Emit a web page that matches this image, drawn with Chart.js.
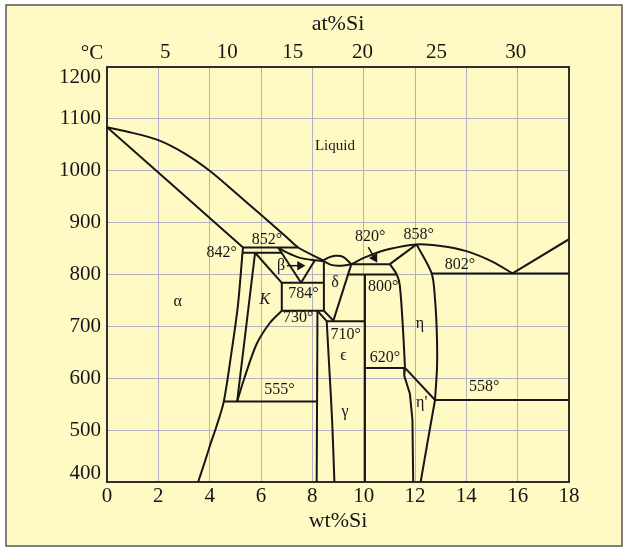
<!DOCTYPE html>
<html>
<head>
<meta charset="utf-8">
<script src="https://cdn.jsdelivr.net/npm/chart.js@4.4.1/dist/chart.umd.min.js"></script>
<style>
  html, body { margin: 0; padding: 0; background: #ffffff; }
  canvas { display: block; }
</style>
</head>
<body>
<canvas id="c" width="629" height="551"></canvas>
<script>
// Axis ticks
const wtTicks = [0, 2, 4, 6, 8, 10, 12, 14, 16, 18];
const tempTicks = [400, 500, 600, 700, 800, 900, 1000, 1100, 1200];
const atTicks = [5, 10, 15, 20, 25, 30];

// Phase boundaries of the Cu–Si system, [wt% Si, °C]
const liquidusCu    = [[0,1084],[1,1073],[2,1059],[3,1034],[4,1000],[5,958],[6,915],[7,872],[7.45,852],[8.43,827]];
const solidusAlpha  = [[0,1084],[2.65,968],[5.3,852]];
const alphaSolvus   = [[5.3,852],[5.28,842],[5.1,740],[4.85,650],[4.55,555],[4.27,508],[4.01,470],[3.8,437],[3.55,400]];
const kappaLeft     = [[5.77,842],[5.07,555]];
const kappaTop      = [[5.77,842],[6.81,784]];
const kappaRight    = [[6.81,730],[6.35,707],[5.83,666],[5.35,600],[5.07,555]];
const iso852        = [[5.3,852],[7.45,852]];
const iso842        = [[5.28,842],[6.8,842]];
const betaSolidus   = [[6.67,852],[6.9,845],[7.2,838],[7.52,832],[8.0,828],[8.43,826]];
const betaLeft      = [[6.67,852],[7.56,784]];
const betaRight     = [[8.1,827.5],[7.56,784]];
const iso784        = [[6.81,784],[8.45,784]];
const iso730        = [[6.81,730],[8.45,730]];
const boxLeft       = [[6.81,784],[6.81,730]];
const deltaLeft     = [[8.45,826],[8.45,730]];
const lensUpper     = [[8.43,827],[8.65,833],[8.9,836],[9.2,834],[9.52,820]];
const lensLower     = [[8.43,826],[8.7,819],[9.0,817],[9.3,818],[9.52,820]];
const deltaRight    = [[9.52,820],[8.82,711]];
const deltaBottom   = [[8.45,730],[8.82,711]];
const gammaTop      = [[8.2,730],[8.56,710]];
const gammaLeft     = [[8.2,730],[8.17,400]];
const epsilonLeft   = [[8.56,710],[8.66,620],[8.77,520],[8.86,400]];
const iso710        = [[8.56,710],[10.05,710]];
const epsilonRight  = [[10.05,800],[10.05,400]];
const iso800        = [[9.35,800],[11.29,800]];
const iso820        = [[9.52,820],[11.02,820]];
const liquidusEta   = [[9.52,820],[10.1,834],[11.0,849],[12.06,858],[13.0,855],[14.0,845],[15.05,824],[15.8,802]];
const etaSolidus    = [[11.02,820],[12.06,858]];
const etaRight      = [[12.06,858],[12.65,802],[12.78,752],[12.85,688],[12.86,624],[12.78,558]];
const etaLeft       = [[11.02,820],[11.29,800],[11.41,778],[11.54,688],[11.61,620]];
const iso620        = [[10.05,620],[11.61,620]];
const etaPrimeLeft  = [[11.61,620],[11.58,605],[11.8,570],[11.9,520],[11.93,400]];
const etaTransition = [[11.61,620],[12.78,558]];
const etaPrimeRight = [[12.78,558],[12.5,480],[12.22,400]];
const iso558        = [[12.78,558],[18,558]];
const iso555        = [[4.55,555],[8.2,555]];
const iso802        = [[12.65,802],[18,802]];
const liquidusSi    = [[15.8,802],[18,868]];

// Pointer arrows (tail, head)
const betaArrow = [[7.01,817],[7.52,817]];
const arrow820  = [[10.18,853],[10.42,832]];

// Field names and invariant temperatures, [text, wt% Si, °C]
const fieldLabels = [
  ['Liquid', 8.88, 1047], ['α', 2.75, 748], ['β', 6.78, 817], ['δ', 8.88, 784],
  ['ϵ', 9.21, 643], ['γ', 9.27, 536], ['η', 12.19, 705], ["η'", 12.26, 552]
];
const italicLabels = [['K', 6.15, 751]];
const tempLabels = [
  ['842°', 4.47, 841], ['852°', 6.23, 866], ['784°', 7.65, 762], ['730°', 7.45, 716],
  ['555°', 6.72, 577], ['710°', 9.3, 683], ['620°', 10.83, 639], ['800°', 10.76, 776],
  ['820°', 10.25, 873], ['858°', 12.14, 877], ['802°', 13.75, 818], ['558°', 14.7, 583]
];

const SERIF = '"Liberation Serif", "DejaVu Serif", serif';
const INK = '#161616';
const PAPER = '#FFF9C3';
const GRID = '#B2B2C2';
const FRAME = '#2e2e2e';

// atomic % Si → weight % Si
const M_SI = 28.086, M_CU = 63.546;
const atToWt = a => 100 * a * M_SI / (a * M_SI + (100 - a) * M_CU);

const curves = new Set([liquidusCu, alphaSolvus, kappaRight, betaSolidus, lensUpper, lensLower,
  liquidusEta, etaRight, epsilonLeft, etaLeft, etaPrimeRight]);

const boundaries = [liquidusCu, solidusAlpha, alphaSolvus, kappaLeft, kappaTop, kappaRight, iso852, iso842,
  betaSolidus, betaLeft, betaRight, iso784, iso730, boxLeft, deltaLeft, lensUpper, lensLower, deltaRight,
  deltaBottom, gammaTop, gammaLeft, epsilonLeft, iso710, epsilonRight, iso800, iso820, liquidusEta,
  etaSolidus, etaRight, etaLeft, iso620, etaPrimeLeft, etaTransition, etaPrimeRight, iso558, iso555,
  iso802, liquidusSi];

const toXY = pts => pts.map(([x, y]) => ({ x, y }));

const datasets = boundaries.map(pts => ({
  data: toXY(pts),
  showLine: true,
  borderColor: INK,
  borderWidth: 2,
  pointRadius: 0,
  tension: curves.has(pts) ? 0.3 : 0,
  fill: false
}));

function arrowSet(pts, rotation) {
  return {
    data: toXY(pts),
    showLine: true,
    borderColor: INK,
    borderWidth: 1.5,
    pointRadius: [0, 4],
    pointStyle: 'triangle',
    pointRotation: [0, rotation],
    pointBackgroundColor: INK,
    pointBorderColor: INK,
    tension: 0
  };
}
datasets.push(arrowSet(betaArrow, 90));
datasets.push(arrowSet(arrow820, 150));

// Panel background and frame
const panel = {
  id: 'panel',
  beforeDraw(chart) {
    const { ctx, width, height } = chart;
    ctx.save();
    ctx.fillStyle = '#ffffff';
    ctx.fillRect(0, 0, width, height);
    ctx.fillStyle = PAPER;
    ctx.fillRect(6, 5, 616, 541);
    ctx.strokeStyle = '#555555';
    ctx.lineWidth = 1.5;
    ctx.strokeRect(6, 5, 616, 541);
    ctx.restore();
  }
};

// Field names, isotherm temperatures and corner labels
const annotations = {
  id: 'annotations',
  afterDatasetsDraw(chart) {
    const { ctx, scales: { x, y }, chartArea } = chart;
    ctx.save();
    ctx.fillStyle = INK;
    ctx.textAlign = 'center';
    ctx.textBaseline = 'middle';
    ctx.font = '16px ' + SERIF;
    for (const [t, w, T] of tempLabels) ctx.fillText(t, x.getPixelForValue(w), y.getPixelForValue(T));
    for (const [t, w, T] of fieldLabels) {
      ctx.font = (t === 'Liquid' ? '15px ' : '16px ') + SERIF;
      ctx.fillText(t, x.getPixelForValue(w), y.getPixelForValue(T));
    }
    ctx.font = 'italic 16px ' + SERIF;
    for (const [t, w, T] of italicLabels) ctx.fillText(t, x.getPixelForValue(w), y.getPixelForValue(T));

    // end labels of the temperature axis sit just inside the frame corners
    ctx.font = '21px ' + SERIF;
    ctx.textAlign = 'right';
    const top = tempTicks[tempTicks.length - 1], bottom = tempTicks[0];
    ctx.fillText(String(top), chartArea.left - 6, y.getPixelForValue(top) + 10);
    ctx.fillText(String(bottom), chartArea.left - 6, y.getPixelForValue(bottom) - 9);
    ctx.textAlign = 'center';
    ctx.fillText('°C', 92, 53);
    ctx.restore();
  }
};

new Chart(document.getElementById('c'), {
  type: 'scatter',
  data: { datasets },
  options: {
    responsive: false,
    animation: false,
    events: [],
    layout: { padding: 0 },
    plugins: { legend: { display: false }, tooltip: { enabled: false } },
    scales: {
      x: {
        type: 'linear', position: 'bottom', min: wtTicks[0], max: wtTicks[wtTicks.length - 1],
        afterBuildTicks: s => { s.ticks = wtTicks.map(v => ({ value: v })); },
        afterFit: s => { s.height = 69; },
        ticks: { color: INK, font: { family: SERIF, size: 21 }, padding: 2, maxRotation: 0, autoSkip: false,
                 callback: v => String(v) },
        grid: { color: GRID, lineWidth: 1, drawTicks: false },
        border: { color: FRAME, width: 2 },
        title: { display: true, text: 'wt%Si', color: INK, font: { family: SERIF, size: 22 },
                 padding: { top: 0, bottom: 17 } }
      },
      xTop: {
        type: 'linear', position: 'top', min: wtTicks[0], max: wtTicks[wtTicks.length - 1],
        afterBuildTicks: s => { s.ticks = atTicks.map(a => ({ value: atToWt(a) })); },
        afterFit: s => { s.height = 67; },
        ticks: { color: INK, font: { family: SERIF, size: 21 }, padding: 2, maxRotation: 0, autoSkip: false,
                 callback: (v, i) => String(atTicks[i]) },
        grid: { drawOnChartArea: false, drawTicks: false },
        border: { color: FRAME, width: 2 },
        title: { display: true, text: 'at%Si', color: INK, font: { family: SERIF, size: 22 },
                 padding: { top: 11, bottom: 0 } }
      },
      y: {
        type: 'linear', position: 'left', min: tempTicks[0], max: tempTicks[tempTicks.length - 1],
        afterBuildTicks: s => { s.ticks = tempTicks.map(v => ({ value: v })); },
        afterFit: s => { s.width = 107; },
        ticks: { color: INK, font: { family: SERIF, size: 21 }, padding: 6, autoSkip: false,
                 callback: v => (v === tempTicks[0] || v === tempTicks[tempTicks.length - 1]) ? '' : String(v) },
        grid: { color: GRID, lineWidth: 1, drawTicks: false },
        border: { color: FRAME, width: 2 }
      },
      yRight: {
        type: 'linear', position: 'right', min: tempTicks[0], max: tempTicks[tempTicks.length - 1],
        afterFit: s => { s.width = 60; },
        ticks: { display: false },
        grid: { drawOnChartArea: false, drawTicks: false },
        border: { color: FRAME, width: 2 }
      }
    }
  },
  plugins: [panel, annotations]
});
</script>
</body>
</html>
